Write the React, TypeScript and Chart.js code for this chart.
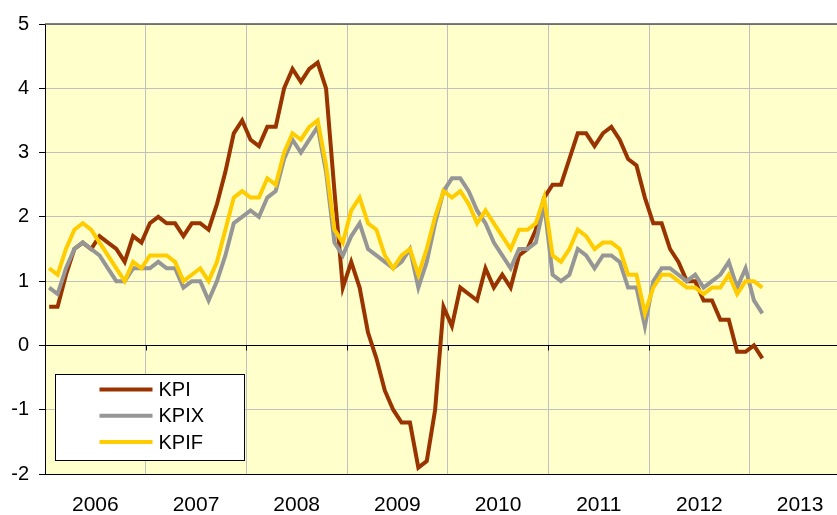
import React, { useEffect, useRef } from "react";
import { Chart, registerables } from "chart.js";

Chart.register(...registerables);

const YEARS = ["2006", "2007", "2008", "2009", "2010", "2011", "2012", "2013"];
const Y_TICKS = [-2, -1, 0, 1, 2, 3, 4, 5];
const SERIES_NAMES = ["KPI", "KPIX", "KPIF"];

// Monthly values, Jan 2006 .. Feb 2013
const KPI = [
  0.6, 0.6, 1.1, 1.5, 1.6, 1.5, 1.7, 1.6, 1.5, 1.3, 1.7, 1.6,
  1.9, 2.0, 1.9, 1.9, 1.7, 1.9, 1.9, 1.8, 2.2, 2.7, 3.3, 3.5,
  3.2, 3.1, 3.4, 3.4, 4.0, 4.3, 4.1, 4.3, 4.4, 4.0, 2.4, 0.9,
  1.3, 0.9, 0.2, -0.2, -0.7, -1.0, -1.2, -1.2, -1.9, -1.8, -1.0, 0.6,
  0.3, 0.9, 0.8, 0.7, 1.2, 0.9, 1.1, 0.9, 1.4, 1.5, 1.8, 2.3,
  2.5, 2.5, 2.9, 3.3, 3.3, 3.1, 3.3, 3.4, 3.2, 2.9, 2.8, 2.3,
  1.9, 1.9, 1.5, 1.3, 1.0, 1.0, 0.7, 0.7, 0.4, 0.4, -0.1, -0.1,
  0.0, -0.2,
];
const KPIX = [
  0.9, 0.8, 1.2, 1.5, 1.6, 1.5, 1.4, 1.2, 1.0, 1.0, 1.2, 1.2,
  1.2, 1.3, 1.2, 1.2, 0.9, 1.0, 1.0, 0.7, 1.0, 1.4, 1.9, 2.0,
  2.1, 2.0, 2.3, 2.4, 2.9, 3.2, 3.0, 3.2, 3.4, 2.7, 1.6, 1.4,
  1.7, 1.9, 1.5, 1.4, 1.3, 1.2, 1.3, 1.5, 0.9, 1.3, 1.9, 2.4,
  2.6, 2.6, 2.4, 2.1, 1.9, 1.6, 1.4, 1.2, 1.5, 1.5, 1.6, 2.2,
  1.1, 1.0, 1.1, 1.5, 1.4, 1.2, 1.4, 1.4, 1.3, 0.9, 0.9, 0.3,
  1.0, 1.2, 1.2, 1.1, 1.0, 1.1, 0.9, 1.0, 1.1, 1.3, 0.9, 1.2,
  0.7, 0.5,
];
const KPIF = [
  1.2, 1.1, 1.5, 1.8, 1.9, 1.8, 1.6, 1.4, 1.2, 1.0, 1.3, 1.2,
  1.4, 1.4, 1.4, 1.3, 1.0, 1.1, 1.2, 1.0, 1.3, 1.8, 2.3, 2.4,
  2.3, 2.3, 2.6, 2.5, 3.0, 3.3, 3.2, 3.4, 3.5, 2.8, 1.8, 1.6,
  2.1, 2.3, 1.9, 1.8, 1.4, 1.2, 1.4, 1.5, 1.1, 1.5, 2.0, 2.4,
  2.3, 2.4, 2.2, 1.9, 2.1, 1.9, 1.7, 1.5, 1.8, 1.8, 1.9, 2.3,
  1.4, 1.3, 1.5, 1.8, 1.7, 1.5, 1.6, 1.6, 1.5, 1.1, 1.1, 0.5,
  0.9, 1.1, 1.1, 1.0, 0.9, 0.9, 0.8, 0.9, 0.9, 1.1, 0.8, 1.0,
  1.0, 0.9,
];

const COLORS = ["#993300", "#969696", "#FFCC00"];
const FONT = "'Liberation Sans', Arial, sans-serif";
const X_MAX = 94.4; // visible months (plot is cut at the right edge)

const toPoints = (vals: number[]) => vals.map((v, i) => ({ x: i + 0.5, y: v }));

const decorPlugin = {
  id: "decor",
  beforeDraw(chart: any) {
    const { ctx, chartArea: a } = chart;
    ctx.save();
    ctx.fillStyle = "#FFFFCC";
    ctx.fillRect(a.left, a.top, a.right - a.left, a.bottom - a.top);
    ctx.restore();
  },
  beforeDatasetsDraw(chart: any) {
    const { ctx, chartArea: a, scales } = chart;
    const y0 = Math.round(scales.y.getPixelForValue(0)) + 0.5;
    ctx.save();
    ctx.strokeStyle = "#000";
    ctx.lineWidth = 1;
    ctx.beginPath();
    ctx.moveTo(a.left, y0);
    ctx.lineTo(a.right, y0);
    for (let k = 1; k <= 6; k++) {
      const px = Math.round(scales.x.getPixelForValue(k * 12)) + 0.5;
      ctx.moveTo(px, y0);
      ctx.lineTo(px, y0 + 5);
    }
    const yb = Math.round(a.bottom) + 0.5;
    ctx.moveTo(a.left, yb);
    ctx.lineTo(a.right, yb);
    ctx.stroke();
    ctx.strokeStyle = "#555";
    ctx.lineWidth = 1.5;
    ctx.beginPath();
    ctx.moveTo(a.left, a.top);
    ctx.lineTo(a.right, a.top);
    ctx.stroke();
    ctx.restore();
  },
  afterDatasetsDraw(chart: any) {
    const { ctx, chartArea: a } = chart;
    const bx = a.left + 10.5;
    const by = a.top + 350.5;
    ctx.save();
    ctx.fillStyle = "#fff";
    ctx.strokeStyle = "#000";
    ctx.lineWidth = 1;
    ctx.fillRect(bx, by, 189, 86);
    ctx.strokeRect(bx, by, 189, 86);
    chart.data.datasets.forEach((ds: any, i: number) => {
      const yy = by + 15 + i * 26.3;
      ctx.strokeStyle = ds.borderColor;
      ctx.lineWidth = 4;
      ctx.beginPath();
      ctx.moveTo(bx + 44, yy);
      ctx.lineTo(bx + 97, yy);
      ctx.stroke();
      ctx.fillStyle = "#000";
      ctx.font = `20px ${FONT}`;
      ctx.textBaseline = "middle";
      ctx.textAlign = "left";
      ctx.fillText(ds.label, bx + 103, yy + 1);
    });
    ctx.restore();
  },
};

export default function App() {
  const ref = useRef<HTMLCanvasElement | null>(null);
  useEffect(() => {
    if (!ref.current) return;
    const seriesVals = [KPI, KPIX, KPIF];
    const chart = new Chart(ref.current, {
      type: "line",
      data: {
        datasets: seriesVals.map((vals, i) => ({
          label: SERIES_NAMES[i],
          data: toPoints(vals),
          borderColor: COLORS[i],
          backgroundColor: COLORS[i],
          borderWidth: 4,
          pointRadius: 0,
          tension: 0,
          fill: false,
          borderJoinStyle: "miter",
          order: 3 - i,
        })),
      },
      options: {
        responsive: false,
        animation: false,
        devicePixelRatio: 1,
        layout: { padding: { top: 24, right: 0, left: 0, bottom: 0 } },
        plugins: { legend: { display: false }, tooltip: { enabled: false } },
        scales: {
          x: {
            type: "linear",
            position: "bottom",
            min: 0,
            max: X_MAX,
            grid: { color: "#C0C0C0", lineWidth: 1, drawTicks: false },
            border: { display: false },
            ticks: { display: false },
            afterBuildTicks: (s: any) => {
              s.ticks = [12, 24, 36, 48, 60, 72, 84].map((v) => ({ value: v }));
            },
            afterFit: (s: any) => {
              s.height = 0;
            },
          },
          xYears: {
            type: "linear",
            position: "bottom",
            min: 0,
            max: X_MAX,
            grid: { display: false },
            border: { display: false },
            ticks: {
              autoSkip: false,
              maxRotation: 0,
              color: "#000",
              padding: 11,
              font: { size: 21, family: FONT },
              callback: (v: any) => YEARS[Math.floor(Number(v) / 12)],
            },
            afterBuildTicks: (s: any) => {
              s.ticks = YEARS.map((_, k) => ({ value: k * 12 + 6 }));
            },
            afterFit: (s: any) => {
              s.height = 41;
            },
          },
          y: {
            type: "linear",
            min: -2,
            max: 5,
            grid: { color: "#C0C0C0", tickColor: "#000", tickLength: 6, lineWidth: 1 },
            border: { display: true, color: "#000", width: 1 },
            ticks: {
              color: "#000",
              padding: 10,
              font: { size: 20, family: FONT },
              stepSize: 1,
            },
            afterBuildTicks: (s: any) => {
              s.ticks = Y_TICKS.map((v) => ({ value: v }));
            },
            afterFit: (s: any) => {
              s.width = 45;
            },
          },
        },
      } as any,
      plugins: [decorPlugin],
    });
    return () => chart.destroy();
  }, []);
  return (
    <div style={{ position: "absolute", left: 0, top: 0, width: 837, height: 515 }}>
      <canvas ref={ref} width={837} height={515} style={{ width: 837, height: 515 }} />
    </div>
  );
}
